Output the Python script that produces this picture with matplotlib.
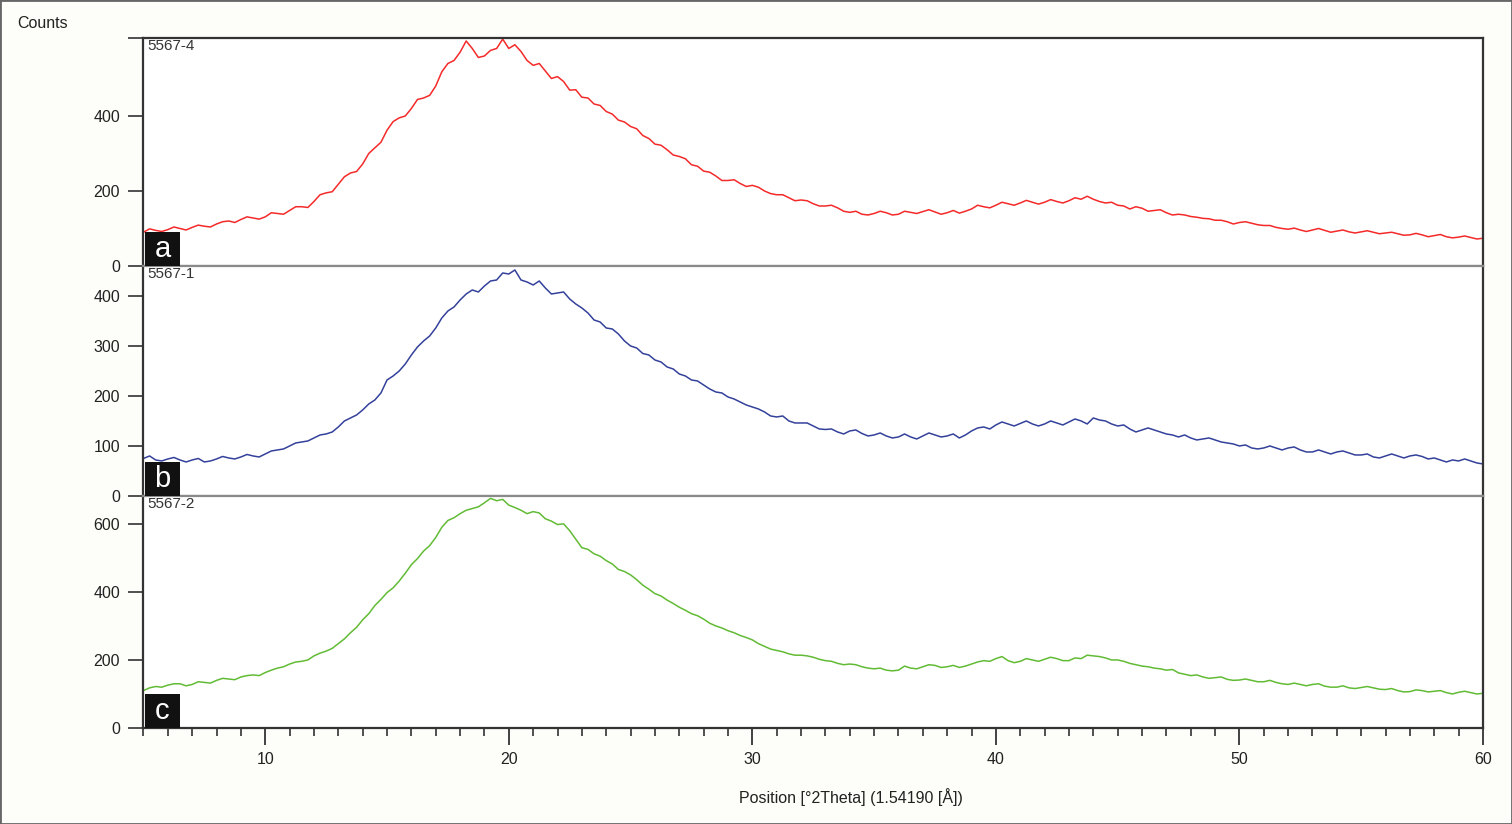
import numpy as np
import matplotlib.pyplot as plt
from matplotlib.patches import Rectangle

plt.rcParams['font.family'] = ['Liberation Sans', 'DejaVu Sans']

# 2Theta positions, every 0.25 degree from 5 to 60
two_theta = np.arange(5, 60.001, 0.25)

# counts (one row = 5 degrees)
counts_a = [90, 99, 95, 92, 97, 104, 100, 96, 103, 109, 106, 104, 112, 118, 120, 116, 124, 131, 128, 125,
            131, 142, 140, 138, 148, 158, 158, 156, 172, 190, 195, 198, 218, 238, 248, 252, 272, 300, 315, 330,
            362, 385, 395, 400, 420, 444, 448, 455, 480, 518, 540, 548, 570, 600, 580, 556, 560, 575, 580, 605,
            580, 590, 572, 548, 535, 540, 520, 500, 505, 492, 469, 470, 450, 448, 432, 428, 412, 405, 389, 384,
            372, 366, 348, 340, 325, 322, 310, 296, 292, 286, 270, 266, 253, 250, 240, 228, 228, 230, 220, 212,
            215, 210, 200, 193, 190, 190, 182, 174, 176, 174, 166, 160, 160, 162, 155, 146, 143, 146, 138, 136,
            140, 146, 142, 136, 138, 146, 143, 140, 145, 150, 144, 138, 142, 148, 141, 146, 152, 162, 158, 155,
            162, 170, 166, 162, 168, 175, 170, 165, 170, 177, 172, 168, 174, 182, 178, 186, 178, 172, 168, 170,
            162, 160, 152, 158, 154, 146, 148, 150, 142, 136, 138, 136, 132, 130, 127, 126, 122, 122, 118, 112,
            116, 118, 114, 110, 108, 108, 103, 100, 98, 101, 96, 92, 96, 100, 95, 90, 93, 96, 91, 88,
            91, 94, 90, 86, 88, 90, 86, 82, 83, 87, 83, 78, 81, 84, 78, 75, 77, 80, 76, 72,
            74]
counts_b = [75, 80, 72, 70, 74, 77, 72, 68, 72, 75, 68, 70, 74, 79, 76, 74, 78, 83, 80, 78,
            84, 90, 92, 94, 100, 106, 108, 110, 116, 122, 124, 128, 138, 150, 156, 162, 172, 184, 192, 206,
            232, 240, 250, 264, 282, 298, 310, 320, 336, 356, 370, 378, 392, 404, 412, 408, 420, 430, 432, 446,
            444, 452, 432, 428, 422, 430, 416, 404, 406, 408, 394, 384, 376, 366, 352, 348, 336, 334, 324, 310,
            300, 296, 285, 282, 272, 268, 258, 254, 244, 240, 232, 230, 222, 214, 208, 206, 198, 194, 188, 182,
            178, 174, 168, 160, 158, 160, 150, 146, 146, 146, 140, 134, 133, 134, 128, 124, 130, 132, 125, 120,
            122, 126, 120, 116, 118, 124, 118, 114, 120, 126, 122, 118, 120, 124, 116, 122, 130, 136, 138, 134,
            142, 148, 144, 140, 145, 150, 144, 140, 144, 150, 146, 142, 148, 154, 150, 144, 156, 152, 150, 144,
            140, 142, 134, 128, 132, 136, 132, 128, 124, 122, 118, 122, 116, 112, 114, 116, 112, 108, 106, 104,
            100, 102, 96, 94, 96, 100, 96, 92, 96, 98, 92, 88, 88, 92, 88, 84, 88, 90, 86, 82,
            82, 84, 78, 76, 80, 84, 80, 76, 80, 82, 79, 74, 76, 72, 68, 72, 70, 74, 70, 66,
            64]
counts_c = [110, 118, 122, 120, 126, 130, 130, 124, 128, 136, 134, 132, 140, 146, 144, 142, 150, 154, 156, 154,
            163, 170, 176, 180, 188, 194, 196, 200, 212, 220, 226, 234, 248, 262, 280, 296, 318, 336, 360, 378,
            398, 412, 432, 455, 480, 498, 520, 536, 560, 590, 610, 618, 630, 640, 645, 650, 662, 675, 668, 672,
            655, 648, 640, 630, 636, 632, 615, 608, 598, 600, 580, 555, 530, 525, 512, 505, 492, 482, 466, 460,
            450, 436, 420, 408, 395, 388, 376, 366, 355, 346, 336, 330, 320, 308, 300, 294, 286, 280, 272, 266,
            259, 248, 240, 232, 228, 224, 218, 214, 214, 212, 208, 202, 198, 196, 190, 186, 188, 186, 180, 176,
            174, 176, 170, 168, 170, 182, 176, 174, 180, 186, 184, 178, 180, 184, 178, 182, 188, 194, 198, 196,
            204, 210, 198, 192, 196, 204, 200, 196, 202, 208, 204, 198, 198, 206, 204, 214, 212, 210, 206, 200,
            200, 196, 190, 186, 182, 180, 176, 174, 170, 172, 162, 158, 154, 156, 150, 146, 148, 150, 143, 140,
            141, 144, 140, 136, 136, 140, 134, 130, 128, 132, 128, 124, 128, 130, 123, 120, 120, 124, 118, 116,
            119, 122, 118, 114, 113, 116, 110, 106, 107, 112, 110, 106, 108, 110, 104, 100, 105, 108, 104, 100,
            102]

samples = ['5567-4', '5567-1', '5567-2']
letters = ['a', 'b', 'c']
colors = ['#f42a2a', '#34419b', '#62bb35']
y_max = [608, 460, 682]
y_ticks = [[0, 200, 400], [0, 100, 200, 300, 400], [0, 200, 400, 600]]

fig = plt.figure(figsize=(15.12, 8.24), dpi=100, facecolor='#fdfdf9')
fig.patches.append(Rectangle((0, 0), 1, 1, transform=fig.transFigure,
                             fill=False, edgecolor='#666666', lw=2))

left, right = 0.0949, 0.9808
edges = [0.9539, 0.6772, 0.3981, 0.1165]

axes = []
for i, counts in enumerate([counts_a, counts_b, counts_c]):
    ax = fig.add_axes([left, edges[i + 1], right - left, edges[i] - edges[i + 1]])
    axes.append(ax)
    ax.plot(two_theta, counts, color=colors[i], lw=1.1)
    ax.set_xlim(5, 60)
    ax.set_ylim(0, y_max[i])

    ticks = y_ticks[i] + ([y_max[i]] if i == 0 else [])
    labels = [str(t) for t in y_ticks[i]] + ([''] if i == 0 else [])
    ax.set_yticks(ticks)
    ax.set_yticklabels(labels)
    ax.tick_params(axis='y', direction='out', length=11, width=1.2,
                   color='#333333', labelsize=11.5, pad=6, labelcolor='#222222')

    for side in ['left', 'right', 'top', 'bottom']:
        ax.spines[side].set_linewidth(1.6)
        ax.spines[side].set_color('#333333')
    if i > 0:
        ax.spines['top'].set_color('#8a8a8a')
    if i < 2:
        ax.spines['bottom'].set_color('#8a8a8a')
        ax.tick_params(axis='x', bottom=False, labelbottom=False)

    ax.text(0.003, 0.995, samples[i], transform=ax.transAxes, ha='left', va='top',
            fontsize=11, color='#333333')

    # black letter tag in the lower left corner
    bx, bw, bh = 145 / 1512, 35 / 1512, 34 / 824
    fig.patches.append(Rectangle((bx, edges[i + 1]), bw, bh, transform=fig.transFigure,
                                 facecolor='#111111', edgecolor='none', zorder=5))
    fig.text(bx + bw / 2, edges[i + 1] + bh / 2, letters[i], ha='center', va='center',
             fontsize=21, color='white', zorder=6)

ax = axes[2]
ax.set_xticks([10, 20, 30, 40, 50, 60])
ax.set_xticks(np.arange(5, 61, 1), minor=True)
ax.tick_params(axis='x', which='major', direction='out', length=12, width=1.3,
               color='#333333', labelsize=11.5, labelcolor='#222222', pad=5)
ax.tick_params(axis='x', which='minor', direction='out', length=6, width=1.2,
               color='#333333')

fig.text(851 / 1512, 1 - 797 / 824, 'Position [°2Theta] (1.54190 [Å])',
         ha='center', va='center', fontsize=11.5, color='#222222')
fig.text(17 / 1512, 1 - 23 / 824, 'Counts', ha='left', va='center',
         fontsize=11.5, color='#222222')

fig.savefig('out.png', dpi=100, facecolor=fig.get_facecolor())
